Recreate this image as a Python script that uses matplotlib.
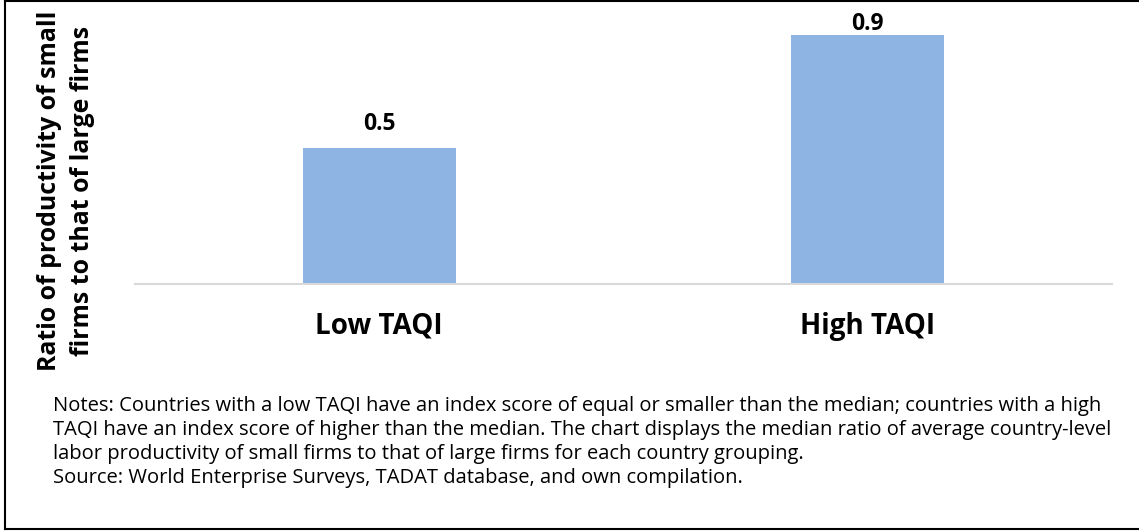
"""
Productivity ratio of small vs large firms by TAQI group.
"""

import matplotlib.pyplot as plt
from matplotlib.lines import Line2D

categories = ["Low TAQI", "High TAQI"]
ratios = [0.49, 0.9]

y_label = "Ratio of productivity of small\nfirms to that of large firms"
notes = (
    "Notes: Countries with a low TAQI have an index score of equal or smaller than the median; countries with a high\n"
    "TAQI have an index score of higher than the median. The chart displays the median ratio of average country-level\n"
    "labor productivity of small firms to that of large firms for each country grouping.\n"
    "Source: World Enterprise Surveys, TADAT database, and own compilation."
)

BAR_COLOR = "#8EB4E3"

plt.rcParams["font.family"] = ["Open Sans", "DejaVu Sans"]

fig = plt.figure(figsize=(11.39, 5.31), dpi=100)
ax = fig.add_axes([0.1185, 0.4652, 0.8578, 0.5217])

x = range(len(categories))
ax.bar(x, ratios, width=0.313, color=BAR_COLOR)
ax.set_xlim(-0.5, len(categories) - 0.5)
ax.set_ylim(0, 1.0)

# data labels sit above the bar, but are kept inside the plot area (like Excel)
for xi, v in zip(x, ratios):
    ax.text(xi, min(v + 0.065, 0.917), f"{v:.1f}", ha="center", va="baseline",
            fontsize=16.5, fontweight="bold")

ax.set_xticks(list(x), labels=categories, fontsize=20, fontweight="bold")
ax.tick_params(axis="x", length=0, pad=20)
ax.set_yticks([])
for side in ["top", "right", "left"]:
    ax.spines[side].set_visible(False)
ax.spines["bottom"].set_color("#D9D9D9")
ax.spines["bottom"].set_linewidth(1.5)

fig.text(0.058, 0.64, y_label, rotation=90, ha="center", va="center",
         fontsize=17.9, fontweight="bold", linespacing=1.45)

fig.text(0.0465, 0.254, notes, ha="left", va="top", fontsize=14.5, linespacing=1.27)

# outer frame
fig.add_artist(Line2D([0.0045, 0.0045], [0.003, 0.998], color="black", lw=1.5, transform=fig.transFigure))
fig.add_artist(Line2D([0.0045, 1.0], [0.998, 0.998], color="black", lw=1.5, transform=fig.transFigure))
fig.add_artist(Line2D([0.0045, 1.0], [0.004, 0.004], color="black", lw=1.5, transform=fig.transFigure))

fig.savefig("out.png", dpi=100)
